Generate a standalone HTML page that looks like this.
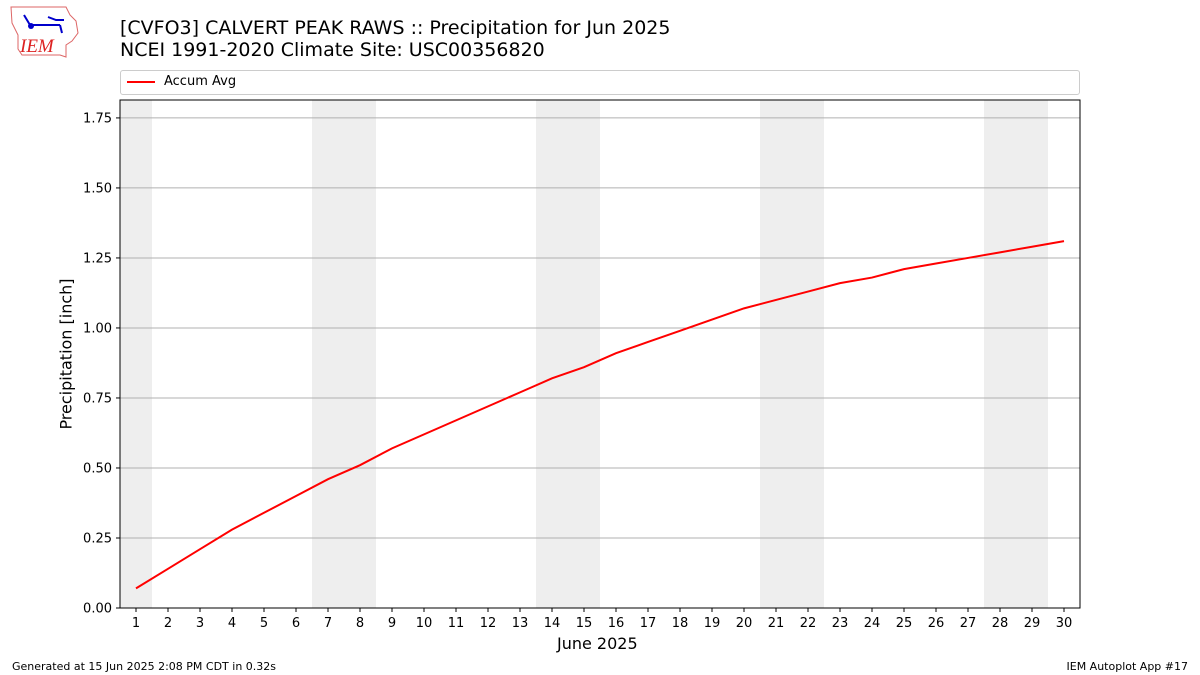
<!DOCTYPE html>
<html><head><meta charset="utf-8">
<style>
body{margin:0;background:#fff;font-family:"DejaVu Sans","Liberation Sans",sans-serif;}
#wrap{position:relative;width:1200px;height:675px;overflow:hidden;}
.t{position:absolute;white-space:nowrap;color:#000;}
</style></head><body>
<div id="wrap">
<svg style="position:absolute;left:8px;top:5px" width="72" height="54" viewBox="0 0 72 54">
<path d="M3,2 L58,2 L62,10 L68,16 L70,28 L64,36 L58,40 L58,52 L52,50 L14,50 L10,44 L10,30 L4,18 Z" fill="none" stroke="#d66" stroke-width="1"/>
<path d="M16,10 L22,20 M22,20 L52,20 M40,12 L48,15 L56,15 M52,20 L54,28" stroke="#00c" stroke-width="2" fill="none"/>
<circle cx="23" cy="21" r="3" fill="#00c"/>
<text x="12" y="47" font-family="Liberation Serif" font-style="italic" font-size="19" fill="#d22">IEM</text>
</svg>
<div class="t" style="left:120px;top:17px;font-size:19px">[CVFO3] CALVERT PEAK RAWS :: Precipitation for Jun 2025</div>
<div class="t" style="left:120px;top:39px;font-size:19px">NCEI 1991-2020 Climate Site: USC00356820</div>
<div style="position:absolute;left:120px;top:70px;width:960px;height:25px;border:1px solid #ccc;border-radius:3px;box-sizing:border-box">
<div style="position:absolute;left:6px;top:10px;width:28px;height:2px;background:#f00"></div>
<div class="t" style="left:43px;top:3px;font-size:13px">Accum Avg</div>
</div>
<svg id="plot" style="position:absolute;left:0;top:0" width="1200" height="675"></svg>
<div class="t" style="left:557px;top:634px;font-size:16px">June 2025</div>
<div class="t" style="left:66px;top:354px;font-size:16px;transform:translate(-50%,-50%) rotate(-90deg)">Precipitation [inch]</div>
<div class="t" style="left:12px;top:660px;font-size:11px">Generated at 15 Jun 2025 2:08 PM CDT in 0.32s</div>
<div class="t" style="right:12px;top:660px;font-size:11px">IEM Autoplot App #17</div>
</div>
<script>
const days=[1,2,3,4,5,6,7,8,9,10,11,12,13,14,15,16,17,18,19,20,21,22,23,24,25,26,27,28,29,30];
const accumAvg=[0.07,0.14,0.21,0.28,0.34,0.40,0.46,0.51,0.57,0.62,0.67,0.72,0.77,0.82,0.86,0.91,0.95,0.99,1.03,1.07,1.10,1.13,1.16,1.18,1.21,1.23,1.25,1.27,1.29,1.31];
const weekendDays=[1,7,8,14,15,21,22,28,29];
const yTicks=[0,0.25,0.5,0.75,1.0,1.25,1.5,1.75];
const yTickLabels=["0.00","0.25","0.50","0.75","1.00","1.25","1.50","1.75"];
const L=120,R=1080,T=100,B=608,xMin=0.5,xMax=30.5,yMin=0,yMax=1.814;
const xs=d=>L+(d-xMin)/(xMax-xMin)*(R-L);
const ys=v=>B-(v-yMin)/(yMax-yMin)*(B-T);
const svg=document.getElementById('plot');const NS='http://www.w3.org/2000/svg';
function mk(tag,attrs){const e=document.createElementNS(NS,tag);for(const k in attrs)e.setAttribute(k,attrs[k]);svg.appendChild(e);return e;}
weekendDays.forEach(d=>{const r=mk('rect',{x:xs(d-0.5),y:T,width:xs(d+0.5)-xs(d-0.5),height:B-T,fill:'#eee'});

});
yTicks.forEach((v,i)=>{const y=ys(v);
const g=mk('line',{x1:L,x2:R,y1:y,y2:y,stroke:'#b0b0b0','stroke-width':1});


mk('line',{x1:L-4,x2:L,y1:y,y2:y,stroke:'#000'});
const t=mk('text',{x:L-8,y:y+4.5,'text-anchor':'end','font-size':13,'font-family':'DejaVu Sans, sans-serif'});t.textContent=yTickLabels[i];

});
days.forEach(d=>{const x=xs(d);mk('line',{x1:x,x2:x,y1:B,y2:B+4,stroke:'#000'});
const t=mk('text',{x:x,y:B+19,'text-anchor':'middle','font-size':13,'font-family':'DejaVu Sans, sans-serif'});t.textContent=d;

});
const p=mk('polyline',{points:days.map((d,i)=>xs(d)+','+ys(accumAvg[i])).join(' '),fill:'none',stroke:'#f00','stroke-width':2});


const f=mk('rect',{x:L,y:T,width:R-L,height:B-T,fill:'none',stroke:'#000','stroke-width':1});


</script>
</body></html>
